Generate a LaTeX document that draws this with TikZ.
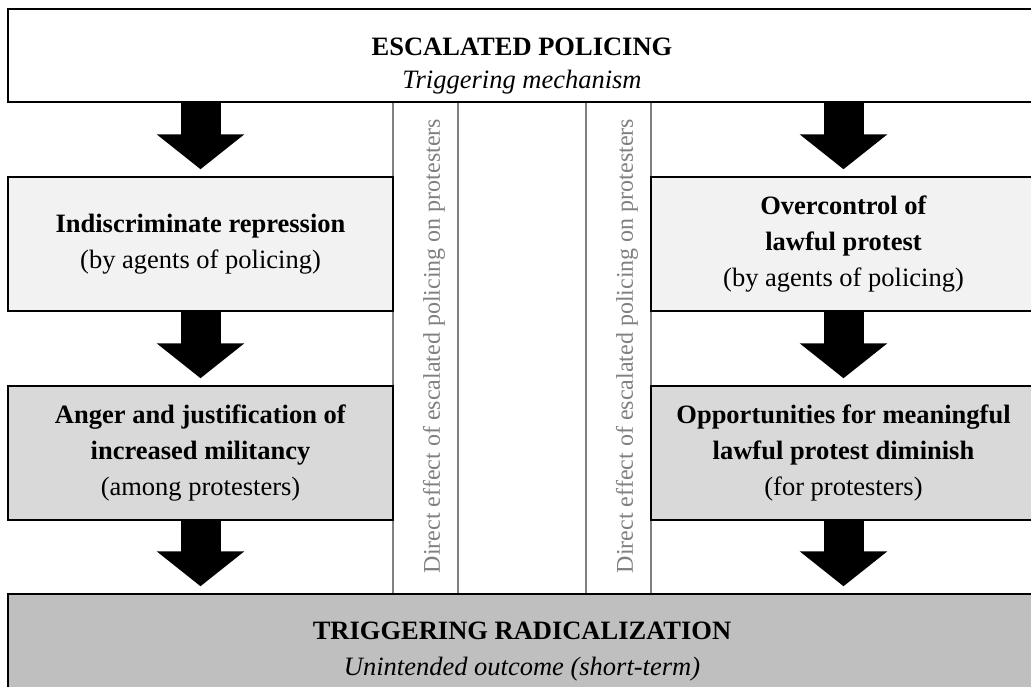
\documentclass[tikz,border=0pt]{standalone}
\usepackage{fontspec}
\setmainfont{Liberation Serif}
\usetikzlibrary{arrows.meta, backgrounds, calc}
\definecolor{cLight}{RGB}{242,242,242}
\definecolor{cMid}{RGB}{217,217,217}
\definecolor{cDark}{RGB}{191,191,191}
\definecolor{cRule}{RGB}{128,128,128}

\begin{document}
\begin{tikzpicture}[x=1pt, y=-1pt,
            box/.style={draw=black, line width=1.5pt, minimum width=385pt, minimum height=134pt, inner sep=0pt, align=center, font=\fontsize{26.5}{36}\selectfont},
            wide/.style={draw=black, line width=1.5pt, minimum width=1028pt, inner sep=0pt},
            ttl/.style={anchor=base, inner sep=0pt, font=\fontsize{26.5}{36}\selectfont\bfseries},
            sub/.style={anchor=base, inner sep=0pt, font=\fontsize{26.5}{36}\selectfont\itshape},
            rule/.style={draw=cRule, line width=1.2pt},
            note/.style={text=cRule, rotate=90, inner sep=0pt, font=\fontsize{24}{28}\selectfont},
            blk/.style={line width=40pt, -{Triangle[length=35pt, width=86pt]}, shorten >=7pt}]
            \useasboundingbox (0,0) rectangle (1031,686);
            \clip (0,0) rectangle (1031,686);
            % mechanism and outcome
            \node[wide, fill=white, minimum height=93pt] (escal) at (522,55.5) {};
            \node[ttl] (escalttl) at (522,55) {ESCALATED POLICING};
            \node[sub] (escalsub) at (522,88) {Triggering mechanism};
            \node[wide, fill=cDark, minimum height=130pt] (rad) at (522,659) {};
            \node[ttl] (radttl) at (522,639) {TRIGGERING RADICALIZATION};
            \node[sub] (radsub) at (522,675) {Unintended outcome (short-term)};
            % two paths
            \node[box, fill=cLight] (repr) at (200.5,244) {\textbf{Indiscriminate repression}\\(by agents of policing)};
            \node[box, fill=cMid] (anger) at (200.5,453) {\textbf{Anger and justification of}\\\textbf{increased militancy}\\(among protesters)};
            \node[box, fill=cLight] (overc) at (843.5,244) {\textbf{Overcontrol of}\\\textbf{lawful protest}\\(by agents of policing)};
            \node[box, fill=cMid] (oppor) at (843.5,453) {\textbf{Opportunities for meaningful}\\\textbf{lawful protest diminish}\\(for protesters)};
            \node[note] (effL) at (434,346) {Direct effect of escalated policing on protesters};
            \node[note] (effR) at (627,346) {Direct effect of escalated policing on protesters};
            \begin{scope}[on background layer]
                \foreach \xx [count=\i] in {393,458,586,651} {
                    \coordinate (sep\i) at (\xx,0);
                    \draw[rule] (escal.south -| sep\i) -- (rad.north -| sep\i);
                }
            \end{scope}
            \draw[blk] (escal.south -| repr.north) -- (repr.north);
            \draw[blk] (repr.south) -- (anger.north);
            \draw[blk] (anger.south) -- (rad.north -| anger.south);
            \draw[blk] (escal.south -| overc.north) -- (overc.north);
            \draw[blk] (overc.south) -- (oppor.north);
            \draw[blk] (oppor.south) -- (rad.north -| oppor.south);
        \end{tikzpicture}
\end{document}
